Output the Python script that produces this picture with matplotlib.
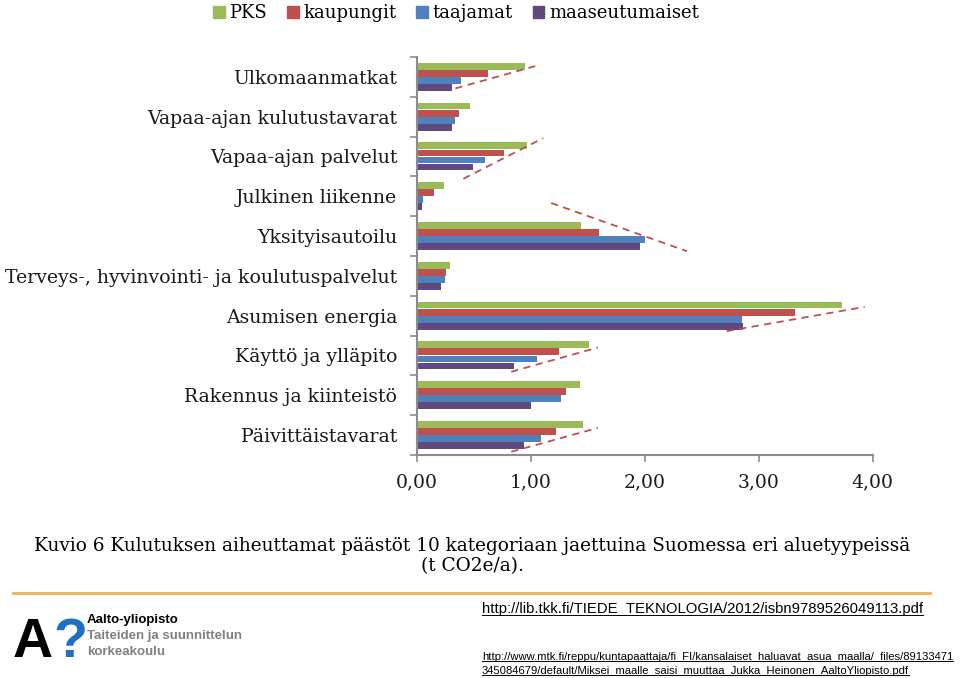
import matplotlib.pyplot as plt
import numpy as np
from matplotlib.lines import Line2D
from matplotlib.patches import Patch
from matplotlib.ticker import FuncFormatter

# data (t CO2e/a)
categories = ["Ulkomaanmatkat", "Vapaa-ajan kulutustavarat", "Vapaa-ajan palvelut",
              "Julkinen liikenne", "Yksityisautoilu",
              "Terveys-, hyvinvointi- ja koulutuspalvelut", "Asumisen energia",
              "Käyttö ja ylläpito", "Rakennus ja kiinteistö", "Päivittäistavarat"]
series = ["PKS", "kaupungit", "taajamat", "maaseutumaiset"]
pks = [0.95, 0.47, 0.97, 0.24, 1.44, 0.29, 3.73, 1.51, 1.43, 1.46]
kaupungit = [0.63, 0.37, 0.77, 0.15, 1.60, 0.26, 3.32, 1.25, 1.31, 1.22]
taajamat = [0.39, 0.34, 0.60, 0.06, 2.00, 0.25, 2.85, 1.06, 1.27, 1.09]
maaseutu = [0.31, 0.31, 0.49, 0.05, 1.96, 0.21, 2.86, 0.85, 1.00, 0.94]
colors = ["#9BBB59", "#C0504D", "#4F81BD", "#604A7B"]

# red dashed trend marks: (x1, y1, x2, y2) in data units
trend_lines = [(0.34, 0.29, 1.04, -0.27),
               (0.41, 2.56, 1.11, 1.54),
               (1.18, 3.17, 2.37, 4.38),
               (2.72, 6.39, 3.93, 5.78),
               (0.83, 7.41, 1.59, 6.80),
               (0.83, 9.42, 1.59, 8.82)]

serif = "DejaVu Serif"
fig = plt.figure(figsize=(9.6, 6.78), dpi=100)
ax = fig.add_axes([0.434, 0.329, 0.475, 0.587])

y = np.arange(len(categories))
h = 0.178
values = [pks, kaupungit, taajamat, maaseutu]
for k in range(4):
    ax.barh(y + (k - 1.5) * h, values[k], height=h * 0.96, color=colors[k], label=series[k])

for x1, y1, x2, y2 in trend_lines:
    ax.plot([x1, x2], [y1, y2], "--", color="#C0504D", lw=1.3, dashes=(4, 3))

ax.set_xlim(0, 4)
ax.set_ylim(len(categories) - 0.5, -0.5)
ax.set_xticks([0, 1, 2, 3, 4])
ax.xaxis.set_major_formatter(FuncFormatter(lambda v, p: f"{v:.2f}".replace(".", ",")))
ax.set_yticks(y)
ax.set_yticklabels(categories, fontsize=13.6, family=serif, color="#1a1a1a")
ax.set_yticks(np.arange(-0.5, len(categories)), minor=True)
ax.tick_params(axis="y", which="major", length=0, pad=14)
ax.tick_params(axis="y", which="minor", length=5, color="#8c8c8c", width=1.2)
ax.tick_params(axis="x", length=5, color="#8c8c8c", width=1.2, pad=8)
for lab in ax.get_xticklabels():
    lab.set_family(serif)
    lab.set_fontsize(13.5)
    lab.set_color("#1a1a1a")
for s in ["top", "right"]:
    ax.spines[s].set_visible(False)
for s in ["left", "bottom"]:
    ax.spines[s].set_color("#8c8c8c")
    ax.spines[s].set_linewidth(1.5)

handles = [Patch(color=c) for c in colors]
fig.legend(handles, series, loc="center", bbox_to_anchor=(0.475, 0.981), ncol=4,
           frameon=False, prop={"family": serif, "size": 13}, handlelength=0.65,
           handleheight=0.65, handletextpad=0.25, columnspacing=1.1)

fig.text(0.492, 0.180, "Kuvio 6 Kulutuksen aiheuttamat päästöt 10 kategoriaan jaettuina Suomessa eri aluetyypeissä\n(t CO2e/a).",
         ha="center", va="center", family=serif, fontsize=13.3, linespacing=1.2, color="black")

# footer
fig.add_artist(Line2D([13 / 960, 930 / 960], [1 - 593 / 678] * 2, color="#E8B45A", lw=2))
fig.text(13 / 960, 1 - 657 / 678, "A", fontsize=40, weight="bold", family="Liberation Sans", color="black")
fig.text(53 / 960, 1 - 657 / 678, "?", fontsize=40, weight="bold", family="Liberation Sans", color="#1F6FC5")
fig.text(87 / 960, 1 - 620 / 678, "Aalto-yliopisto", fontsize=9.5, weight="bold", family="Liberation Sans", va="center")
fig.text(87 / 960, 1 - 636 / 678, "Taiteiden ja suunnittelun", fontsize=9.5, weight="bold", family="Liberation Sans", va="center", color="#808080")
fig.text(87 / 960, 1 - 652 / 678, "korkeakoulu", fontsize=9.5, weight="bold", family="Liberation Sans", va="center", color="#808080")

urls = [fig.text(482 / 960, 1 - 609 / 678, "http://lib.tkk.fi/TIEDE_TEKNOLOGIA/2012/isbn9789526049113.pdf",
                 fontsize=10.7, family="Liberation Sans", va="center"),
        fig.text(482 / 960, 1 - 657 / 678, "http://www.mtk.fi/reppu/kuntapaattaja/fi_FI/kansalaiset_haluavat_asua_maalla/_files/89133471",
                 fontsize=8.1, family="Liberation Sans", va="center"),
        fig.text(482 / 960, 1 - 671 / 678, "345084679/default/Miksei_maalle_saisi_muuttaa_Jukka_Heinonen_AaltoYliopisto.pdf",
                 fontsize=8.1, family="Liberation Sans", va="center")]

fig.canvas.draw()
r = fig.canvas.get_renderer()
for t in urls:
    bb = t.get_window_extent(r)
    yy = bb.y0 + 1
    fig.add_artist(Line2D([bb.x0 / 960, bb.x1 / 960], [yy / 678] * 2, color="black", lw=0.7))

fig.savefig("out.png", dpi=100)
